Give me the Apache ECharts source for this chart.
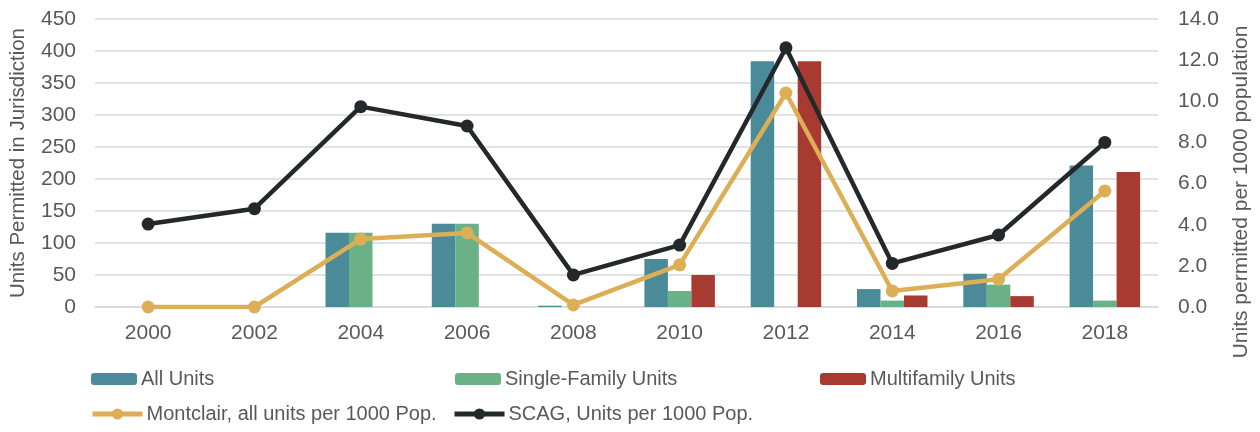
<!DOCTYPE html>
<html>
<head>
<meta charset="utf-8">
<script src="https://cdn.jsdelivr.net/npm/echarts@6/dist/echarts.min.js"></script>
<style>
  html, body { margin: 0; padding: 0; background: #fff; }
  #chart { width: 1260px; height: 432px; }
</style>
</head>
<body>
<div id="chart"></div>
<script>
// 年份
const years = ['2000', '2002', '2004', '2006', '2008', '2010', '2012', '2014', '2016', '2018'];
// 许可单位数（左轴）
const allUnits = [0, 0, 116, 130, 2, 75, 384, 28, 52, 221];
const singleFamily = [0, 0, 116, 130, 0, 25, 0, 10, 35, 10];
const multiFamily = [0, 0, 0, 0, 0, 50, 384, 18, 17, 211];
// 每千人许可数（右轴）
const montclair = [0, 0, 3.3, 3.6, 0.1, 2.05, 10.4, 0.78, 1.35, 5.64];
const scag = [4.03, 4.78, 9.74, 8.8, 1.56, 3.01, 12.6, 2.12, 3.5, 8.0];

const FONT = 'Liberation Sans';
const GRAY = '#595959';

let chart = echarts.init(document.getElementById('chart'));

function legendAt(name, left, top, w, h) {
    return {
        data: [name], left: left, top: top,
        itemWidth: w, itemHeight: h, itemGap: 0,
        selectedMode: false, padding: 0,
        lineStyle: {width: 5},
        textStyle: {fontFamily: FONT, fontSize: 20, color: GRAY, padding: [0, 0, 0, -1]}
    };
}

let option = {
    animation: false,
    grid: {left: 95, right: 101, top: 19, bottom: 125},
    legend: [
        legendAt('All Units', 91, 369, 46, 12),
        legendAt('Single-Family Units', 455, 369, 46, 12),
        legendAt('Multifamily Units', 820, 369, 46, 12),
        legendAt('Montclair, all units per 1000 Pop.', 90, 404, 50, 14),
        legendAt('SCAG, Units per 1000 Pop.', 452, 404, 50, 14)
    ],
    xAxis: {
        type: 'category',
        data: years,
        axisTick: {show: false},
        axisLine: {lineStyle: {color: '#d9d9d9', width: 1.5}},
        axisLabel: {fontFamily: FONT, fontSize: 21, color: GRAY, margin: 16}
    },
    yAxis: [
        {
            type: 'value', min: 0, max: 450, interval: 50,
            name: 'Units Permitted in Jurisdiction',
            nameLocation: 'middle', nameRotate: 90, nameGap: 66,
            nameTextStyle: {fontFamily: FONT, fontSize: 20.5, color: GRAY},
            axisLabel: {fontFamily: FONT, fontSize: 21, color: GRAY, margin: 19},
            splitLine: {lineStyle: {color: '#d9d9d9', width: 1.5}}
        },
        {
            type: 'value', min: 0, max: 14, interval: 2,
            name: 'Units permitted per 1000 population',
            nameLocation: 'middle', nameRotate: 90, nameGap: 73,
            nameTextStyle: {fontFamily: FONT, fontSize: 21, color: GRAY, padding: [0, 58, 0, 0]},
            axisLabel: {fontFamily: FONT, fontSize: 21, color: GRAY, margin: 20,
                formatter: function (v) { return v.toFixed(1); }},
            splitLine: {show: false}
        }
    ],
    series: [
        {name: 'All Units', type: 'bar', data: allUnits, barWidth: 23.5, barGap: '0%',
            itemStyle: {color: '#4a8a99'}},
        {name: 'Single-Family Units', type: 'bar', data: singleFamily, barWidth: 23.5, barGap: '0%',
            itemStyle: {color: '#6ab187'}},
        {name: 'Multifamily Units', type: 'bar', data: multiFamily, barWidth: 23.5, barGap: '0%',
            itemStyle: {color: '#a83b31'}},
        {name: 'Montclair, all units per 1000 Pop.', type: 'line', yAxisIndex: 1, data: montclair,
            symbol: 'circle', symbolSize: 13,
            lineStyle: {color: '#dcaf57', width: 4.5}, itemStyle: {color: '#dcaf57'}},
        {name: 'SCAG, Units per 1000 Pop.', type: 'line', yAxisIndex: 1, data: scag,
            symbol: 'circle', symbolSize: 13,
            lineStyle: {color: '#23282b', width: 4.5}, itemStyle: {color: '#23282b'}}
    ]
};

chart.setOption(option);
</script>
</body>
</html>
